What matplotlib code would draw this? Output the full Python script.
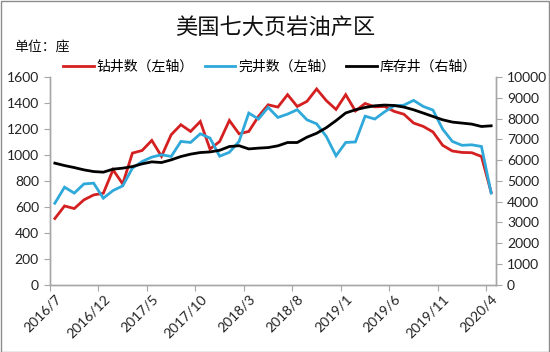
import matplotlib
matplotlib.use("Agg")
import matplotlib.pyplot as plt
from matplotlib.patches import Rectangle

plt.rcParams['font.family'] = ['Noto Sans CJK SC', 'DejaVu Sans']

months = []
y, m = 2016, 7
for _ in range(46):
    months.append(f"{y}/{m}")
    m += 1
    if m > 12:
        m = 1
        y += 1

drilled = [510, 607, 587, 654, 692, 705, 886, 777, 1015, 1035, 1113, 990, 1157, 1234,
           1182, 1259, 1046, 1105, 1267, 1164, 1182, 1298, 1388, 1370, 1466, 1375, 1414,
           1510, 1420, 1352, 1466, 1340, 1398, 1372, 1375, 1337, 1315, 1247, 1221, 1178,
           1075, 1031, 1020, 1018, 989, 712]
completed = [628, 752, 706, 777, 783, 667, 726, 762, 899, 950, 984, 1002, 989, 1105,
             1097, 1164, 1131, 991, 1021, 1105, 1324, 1278, 1368, 1290, 1316, 1350, 1272,
             1241, 1143, 994, 1097, 1101, 1300, 1278, 1333, 1380, 1385, 1422, 1375, 1347,
             1200, 1105, 1075, 1079, 1066, 706]
inventory = [5859, 5743, 5646, 5535, 5453, 5424, 5569, 5617, 5694, 5825, 5921, 5888,
             6018, 6178, 6293, 6371, 6400, 6480, 6660, 6700, 6545, 6583, 6610, 6694,
             6854, 6854, 7110, 7300, 7570, 7910, 8280, 8433, 8544, 8626, 8660, 8641,
             8563, 8433, 8274, 8110, 7950, 7839, 7791, 7742, 7627, 7660]

W, H = 550, 352
fig = plt.figure(figsize=(5.5, 3.52), dpi=100)
ax = fig.add_axes([50 / W, 1 - 284.6 / H, 446 / W, (284.6 - 77.3) / H])
ax2 = ax.twinx()

x = list(range(len(months)))
red = '#D42020'
blue = '#2FA8DA'
l1, = ax.plot(x, drilled, color=red, lw=2.0, solid_joinstyle='miter')
l2, = ax.plot(x, completed, color=blue, lw=2.0, solid_joinstyle='miter')
l3, = ax2.plot(x, inventory, color='black', lw=2.0)

ax.set_xlim(-0.5, len(months) - 0.5)
ax.set_ylim(0, 1600)
ax2.set_ylim(0, 10000)
ax.set_yticks(range(0, 1601, 200))
ax2.set_yticks(range(0, 10001, 1000))

gray = '#A6A6A6'
for a in (ax, ax2):
    a.spines['top'].set_visible(False)
    for s in ('left', 'right', 'bottom'):
        a.spines[s].set_color(gray)
        a.spines[s].set_linewidth(1.0)
    a.tick_params(axis='y', colors=gray, length=4, width=0.8, labelsize=10,
                  labelcolor='#222222')
    for lab in a.get_yticklabels():
        lab.set_family(['Lato', 'DejaVu Sans'])
ax.tick_params(axis='y', pad=4)
ax2.tick_params(axis='y', pad=4)

tick_idx = list(range(0, len(months), 5))
ax.set_xticks([i - 0.5 for i in tick_idx])
ax.set_xticklabels([''] * len(tick_idx))
ax.tick_params(axis='x', which='major', colors=gray, length=4, width=0.8)
ax.set_xticks(tick_idx, minor=True)
ax.set_xticklabels([months[i] for i in tick_idx], minor=True, rotation=45,
                   ha='right', rotation_mode='anchor', fontsize=10,
                   family=['Lato', 'DejaVu Sans'], color='#222222')
ax.tick_params(axis='x', which='minor', length=0, pad=6)

fig.text(0.5, 1 - 27 / H, '美国七大页岩油产区', ha='center', va='center',
         fontsize=16, color='#111111')
fig.text(14 / W, 1 - 47 / H, '单位：座', ha='left', va='center', fontsize=10,
         color='#111111')

leg = fig.legend([l1, l2, l3], ['钻井数（左轴）', '完井数（左轴）', '库存井（右轴）'],
                 loc='center', bbox_to_anchor=(270 / W, 1 - 67 / H), ncol=3,
                 frameon=False, fontsize=10, handlelength=2.2, handletextpad=0.2,
                 columnspacing=0.8, borderaxespad=0)

fig.patches.append(Rectangle((0.5 / W, 0.5 / H), 1 - 1.5 / W, 1 - 1.5 / H,
                             transform=fig.transFigure, fill=False,
                             edgecolor='#8C8C8C', lw=1.0))

fig.savefig('out.png', dpi=100)
